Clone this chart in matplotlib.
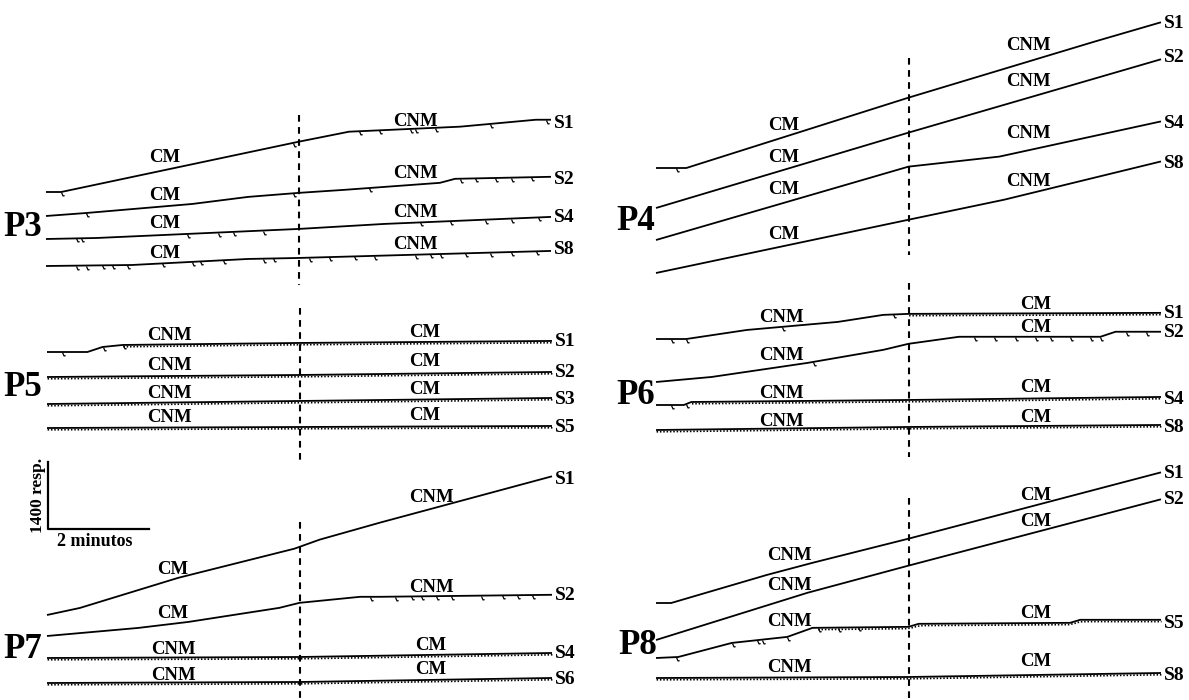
import matplotlib
matplotlib.use('Agg')
import matplotlib.pyplot as plt
import matplotlib.transforms as mtransforms
from matplotlib.path import Path
import numpy as np

W, H = 1189, 700
PX_PER_MIN = 50.5          # 2 minutos ~ 101 px
RESP_PER_PX = 1400 / 67    # 1400 resp. ~ 67 px
CAMBIO = 5.0               # minuto del cambio de fase (linea discontinua)

# ---------------- datos: tiempo (min) y respuestas acumuladas ----------------
p3_sesiones = ['S1', 'S2', 'S4', 'S8']
p3_fases = [('CM', 'CNM')] * 4
p3_t = [[0, 0.3, 5.0, 6.0, 8.2, 9.7, 10.0],
        [0, 0.8, 2.9, 4.0, 5.0, 5.9, 7.8, 8.1, 10],
        [0, 1.0, 5.0, 6.7, 10],
        [0, 1.7, 4.0, 5.0, 10]]
p3_r = [[0, 0, 1050, 1260, 1365, 1510, 1510],
        [0, 63, 252, 399, 483, 546, 693, 777, 819],
        [0, 21, 210, 315, 462],
        [0, 21, 147, 168, 315]]
p3_pips = [[0.3, 4.9, 6.2, 6.6, 7.2, 7.3, 7.7, 8.8, 9.9],
           [0.8, 4.9, 6.4, 8.2, 8.5, 8.9, 9.2, 9.6],
           [0.6, 0.7, 2.8, 3.4, 3.7, 4.3, 7.4, 8.0, 8.7, 9.2, 9.75],
           [0.6, 0.8, 1.1, 1.3, 1.6, 2.3, 2.9, 3.05, 3.5, 4.3, 4.5, 5.2, 5.6,
            6.1, 6.5, 7.3, 7.6, 7.8, 8.3, 8.8, 9.2, 9.7]]
p3_densos = [None, None, None, None]

p4_sesiones = ['S1', 'S2', 'S4', 'S8']
p4_fases = [('CM', 'CNM')] * 4
p4_t = [[0, 0.6, 5.0, 8.7, 10],
        [0, 5.0, 10],
        [0, 5.0, 6.8, 10],
        [0, 5.0, 6.9, 10]]
p4_r = [[0, 0, 1470, 2646, 3045],
        [0, 1575, 3108],
        [0, 1533, 1743, 2478],
        [0, 1113, 1533, 2331]]
p4_pips = [[0.4], [], [], []]
p4_densos = [None, None, None, None]

p5_sesiones = ['S1', 'S2', 'S3', 'S5']
p5_fases = [('CNM', 'CM')] * 4
p5_t = [[0, 0.8, 1.1, 1.5, 5.0, 10],
        [0, 5.0, 10],
        [0, 5.0, 10],
        [0, 5.0, 10]]
p5_r = [[0, 0, 105, 147, 189, 231],
        [0, 42, 105],
        [0, 63, 126],
        [0, 21, 42]]
p5_pips = [[0.3, 1.1, 1.5], [], [], []]
p5_densos = [(1.5, 10), (0, 10), (0, 10), (0, 10)]

p6_sesiones = ['S1', 'S2', 'S4', 'S8']
p6_fases = [('CNM', 'CM')] * 4
p6_t = [[0, 0.6, 1.8, 3.6, 4.5, 5.0, 10],
        [0, 1.1, 3.0, 4.5, 5.0, 6.0, 8.8, 9.1, 10],
        [0, 0.55, 0.7, 5.0, 10],
        [0, 5.0, 10]]
p6_r = [[0, 0, 189, 357, 504, 525, 546],
        [0, 105, 399, 672, 798, 945, 945, 1050, 1050],
        [0, 0, 63, 105, 168],
        [0, 63, 105]]
p6_pips = [[0.3, 0.6, 2.5, 4.7],
           [3.1, 6.3, 6.7, 7.1, 7.5, 7.8, 8.2, 8.6, 8.8, 9.3, 9.7],
           [0.3, 0.6], []]
p6_densos = [(5.0, 10), None, (0.7, 10), (0, 10)]

p7_sesiones = ['S1', 'S2', 'S4', 'S6']
p7_fases = [('CM', 'CNM'), ('CM', 'CNM'), ('CNM', 'CM'), ('CNM', 'CM')]
p7_t = [[0, 0.65, 2.6, 4.9, 5.4, 6.6, 10],
        [0, 1.8, 2.8, 4.6, 5.0, 6.2, 6.6, 10],
        [0, 5.0, 10],
        [0, 5.0, 10]]
p7_r = [[0, 147, 777, 1386, 1575, 1932, 2898],
        [0, 168, 294, 588, 693, 819, 819, 861],
        [0, 21, 105],
        [0, 21, 105]]
p7_pips = [[], [6.4, 6.9, 7.2, 7.4, 7.7, 8.0, 8.6, 9.0, 9.3, 9.6], [], []]
p7_densos = [None, None, (0, 10), (0, 10)]

p8_sesiones = ['S1', 'S2', 'S5', 'S8']
p8_fases = [('CNM', 'CM')] * 4
p8_t = [[0, 0.3, 2.2, 3.1, 5.0, 10],
        [0, 3.0, 5.0, 10],
        [0, 0.44, 1.5, 2.6, 3.1, 5.0, 5.2, 8.2, 8.4, 10],
        [0, 5.0, 10]]
p8_r = [[0, 0, 588, 840, 1344, 2730],
        [0, 987, 1554, 2940],
        [0, 21, 315, 441, 630, 651, 714, 735, 798, 798],
        [0, 21, 105]]
p8_pips = [[], [], [0.4, 1.5, 2.0, 2.1, 2.6, 3.2, 3.6, 4.0], []]
p8_densos = [None, None, (3.2, 10), (0, 10)]

# ---------------- disposicion (pixeles de la figura) ----------------
# x inicial, y inicial de cada registro, extension de la linea discontinua,
# posicion del rotulo P, x de los rotulos de fase, y de los rotulos de fase
layout = {
    'P3': dict(x0=46, y0=[192, 216, 239, 266], dash=(115, 285), lab=(23, 227),
               fx=(165, 415), fy1=[157, 196, 224, 253], fy2=[121, 173, 213, 245],
               sy=[123, 179, 218, 250]),
    'P4': dict(x0=656, y0=[168, 208, 240, 273], dash=(58, 255), lab=(636, 222),
               fx=(784, 1028), fy1=[125, 157, 190, 235], fy2=[45, 82, 133, 182],
               sy=[23, 57, 123, 163]),
    'P5': dict(x0=47, y0=[352, 377, 404, 428], dash=(308, 460), lab=(23, 388),
               fx=(169, 425), fy1=[336, 366, 394, 418], fy2=[333, 362, 390, 416],
               sy=[342, 373, 400, 427]),
    'P6': dict(x0=656, y0=[339, 382, 405, 430], dash=(283, 457), lab=(636, 395),
               fx=(781, 1036), fy1=[318, 355, 393, 422], fy2=[305, 328, 388, 417],
               sy=[313, 333, 400, 428]),
    'P7': dict(x0=47, y0=[615, 636, 658, 683], dash=(522, 700), lab=(23, 650),
               fx=(173, 431), fy1=[570, 613, 649, 675], fy2=[497, 588, 645, 670],
               sy=[479, 596, 653, 680]),
    'P8': dict(x0=656, y0=[603, 640, 658, 678], dash=(498, 700), lab=(638, 645),
               fx=(789, 1036), fy1=[555, 585, 622, 668], fy2=[495, 522, 613, 662],
               sy=[473, 500, 623, 675]),
}

paneles = {
    'P3': (p3_sesiones, p3_fases, p3_t, p3_r, p3_pips, p3_densos),
    'P4': (p4_sesiones, p4_fases, p4_t, p4_r, p4_pips, p4_densos),
    'P5': (p5_sesiones, p5_fases, p5_t, p5_r, p5_pips, p5_densos),
    'P6': (p6_sesiones, p6_fases, p6_t, p6_r, p6_pips, p6_densos),
    'P7': (p7_sesiones, p7_fases, p7_t, p7_r, p7_pips, p7_densos),
    'P8': (p8_sesiones, p8_fases, p8_t, p8_r, p8_pips, p8_densos),
}

FUENTE = ['Liberation Serif', 'DejaVu Serif']


def a_datos(px, py):
    """pixel de la figura -> (min, resp) del lienzo"""
    return px / PX_PER_MIN, (H - py) * RESP_PER_PX


fig = plt.figure(figsize=(W / 100, H / 100), dpi=100)
ax = fig.add_axes([0, 0, 1, 1])
ax.set_xlim(0, W / PX_PER_MIN)
ax.set_ylim(0, H * RESP_PER_PX)
ax.axis('off')

# marca de reforzamiento: pequeno trazo hacia abajo
pip = Path([(0, 0), (0.45, -1.0), (0.9, -0.9)], [Path.MOVETO, Path.LINETO, Path.LINETO])
desplazado = mtransforms.offset_copy(ax.transData, fig=fig, x=0.6, y=-1.8, units='dots')

for nombre, (ses, fases, tt, rr, pips, densos) in paneles.items():
    lay = layout[nombre]
    for i in range(4):
        ox, oy = a_datos(lay['x0'], lay['y0'][i])
        t = np.array(tt[i], dtype=float)
        r = np.array(rr[i], dtype=float)
        ax.plot(ox + t, oy + r, color='black', lw=1.3, solid_capstyle='butt')
        if pips[i]:
            pt = np.array(pips[i])
            ax.plot(ox + pt, oy + np.interp(pt, t, r), linestyle='none',
                    marker=pip, markersize=5, markeredgewidth=0.9,
                    markeredgecolor='black', markerfacecolor='none')
        if densos[i] is not None:
            a, b = densos[i]
            td = np.linspace(a, b, 60)
            ax.plot(ox + td, oy + np.interp(td, t, r), color='black', lw=1.2,
                    linestyle=(0, (0.9, 1.1)), transform=desplazado)
        # rotulo de sesion al final del registro
        ax.text(ox + t[-1] + 3 / PX_PER_MIN, a_datos(0, lay['sy'][i])[1], ses[i],
                fontsize=14, fontweight='bold', family=FUENTE,
                ha='left', va='center')
        # rotulos de fase
        for k in range(2):
            fy = lay['fy1'][i] if k == 0 else lay['fy2'][i]
            ax.text(*a_datos(lay['fx'][k], fy), fases[i][k], fontsize=13.5,
                    fontweight='bold', family=FUENTE, ha='center', va='center')
    # linea discontinua del cambio de fase
    xd, _ = a_datos(lay['x0'], 0)
    ax.plot([xd + CAMBIO, xd + CAMBIO],
            [a_datos(0, lay['dash'][0])[1], a_datos(0, lay['dash'][1])[1]],
            color='black', lw=1.5, linestyle=(0, (3.2, 2.6)))
    ax.text(*a_datos(*lay['lab']), nombre, fontsize=25, fontweight='bold',
            family=FUENTE, ha='center', va='center')

# barra de escala: 1400 resp. / 2 minutos
bx, by = a_datos(48, 529)
ax.plot([bx, bx, bx + 2], [by + 1400, by, by], color='black', lw=1.6)
ax.text(bx - 10 / PX_PER_MIN, by + 700, '1400 resp.', rotation=90, fontsize=12.5,
        fontweight='bold', family=FUENTE, ha='center', va='center')
ax.text(bx + 0.92, by - 12 * RESP_PER_PX, '2 minutos', fontsize=13,
        fontweight='bold', family=FUENTE, ha='center', va='center')

fig.savefig('out.png', dpi=100)
